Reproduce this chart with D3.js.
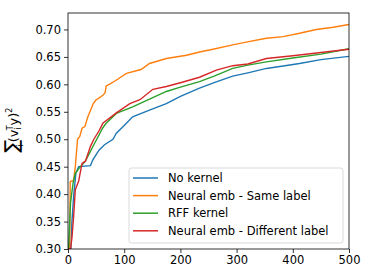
<!DOCTYPE html>
<html>
<head>
<meta charset="utf-8">
<script src="https://cdn.jsdelivr.net/npm/d3@7"></script>
<style>
  body { margin: 0; background: #fff; }
  text { font-family: "DejaVu Sans", sans-serif; }
</style>
</head>
<body>
<div id="viz"></div>
<script>
// series: [x, value]
var names = ['No kernel', 'Neural emb - Same label', 'RFF kernel', 'Neural emb - Different label'];
var colors = ['#1f77b4', '#ff7f0e', '#2ca02c', '#d62728'];

var noKernel = [[0,0.30],[5,0.30],[7,0.35],[10,0.396],[14,0.438],[19,0.45],[40,0.452],[44,0.462],[52,0.475],[56,0.481],[65,0.490],[80,0.500],[86,0.511],[100,0.525],[115,0.541],[145,0.553],[175,0.565],[200,0.578],[234,0.593],[260,0.603],[293,0.615],[320,0.621],[353,0.629],[380,0.633],[412,0.638],[450,0.645],[500,0.651]];
var sameLabel = [[0,0.30],[3,0.30],[4,0.423],[10,0.425],[13,0.45],[17,0.50],[21,0.505],[25,0.52],[30,0.523],[35,0.54],[39,0.55],[45,0.565],[50,0.572],[55,0.575],[62,0.58],[66,0.585],[68,0.597],[75,0.601],[85,0.607],[104,0.620],[130,0.627],[145,0.638],[175,0.647],[211,0.653],[234,0.659],[258,0.664],[293,0.672],[317,0.677],[353,0.684],[383,0.687],[412,0.693],[442,0.700],[472,0.704],[500,0.709]];
var rff = [[0,0.30],[1,0.30],[4.5,0.384],[9,0.42],[13,0.438],[22,0.45],[31,0.46],[46,0.49],[62,0.521],[68,0.529],[86,0.547],[115,0.559],[145,0.573],[175,0.587],[200,0.595],[234,0.605],[260,0.615],[293,0.629],[320,0.635],[353,0.641],[400,0.648],[450,0.655],[500,0.665]];
var diffLabel = [[0,0.30],[4.5,0.30],[7,0.32],[10,0.359],[13,0.408],[19,0.424],[25,0.456],[31,0.46],[40,0.487],[46,0.50],[55,0.515],[62,0.529],[86,0.548],[110,0.565],[128,0.572],[151,0.591],[175,0.596],[200,0.603],[234,0.613],[264,0.626],[293,0.634],[320,0.637],[353,0.647],[400,0.652],[450,0.658],[500,0.664]];
var series = [noKernel, sameLabel, rff, diffLabel];

var xTicks = [0, 100, 200, 300, 400, 500];
var yTicks = [0.30, 0.35, 0.40, 0.45, 0.50, 0.55, 0.60, 0.65, 0.70];

var W = 374, H = 280,
    margin = { top: 13, right: 25, bottom: 31, left: 68 },
    width = W - margin.left - margin.right,
    height = H - margin.top - margin.bottom;

var svg = d3.select('#viz').append('svg')
  .attr('width', W)
  .attr('height', H);

var xScale = d3.scaleLinear().domain([0, 500]).range([0, width]);
var yScale = d3.scaleLinear().domain([0.30, 0.73]).range([height, 0]);

var chart = svg.append('g')
  .attr('transform', 'translate(' + margin.left + ',' + margin.top + ')');

chart.append('defs').append('clipPath').attr('id', 'clip')
  .append('rect').attr('width', width).attr('height', height);

var line = d3.line()
  .x(function(d) { return xScale(d[0]); })
  .y(function(d) { return yScale(d[1]); });

chart.append('g').attr('clip-path', 'url(#clip)')
  .selectAll('path').data(series)
  .enter().append('path')
    .attr('d', line)
    .attr('fill', 'none')
    .attr('stroke', function(d, i) { return colors[i]; })
    .attr('stroke-width', 1.4);

var xGuide = chart.append('g')
  .attr('transform', 'translate(0,' + height + ')')
  .call(d3.axisBottom(xScale).tickValues(xTicks).tickSize(4).tickPadding(3));
var yGuide = chart.append('g')
  .call(d3.axisLeft(yScale).tickValues(yTicks).tickSize(4).tickPadding(3)
    .tickFormat(d3.format('.2f')));

[xGuide, yGuide].forEach(function(g) {
  g.select('.domain').remove();
  g.selectAll('text').attr('font-size', 11.5).attr('fill', '#000')
    .style('font-family', '"DejaVu Sans", sans-serif');
  g.selectAll('line').attr('stroke', '#000').attr('stroke-width', 0.8);
});

chart.append('rect')
  .attr('width', width).attr('height', height)
  .attr('fill', 'none').attr('stroke', '#000').attr('stroke-width', 0.8);

// legend
var legend = chart.append('g').attr('transform', 'translate(61,155)');
legend.append('rect')
  .attr('width', 214).attr('height', 75)
  .attr('rx', 2.5)
  .attr('fill', 'rgba(255,255,255,0.8)')
  .attr('stroke', '#d0d0d0').attr('stroke-width', 0.8);
var items = legend.selectAll('.item').data(names)
  .enter().append('g')
    .attr('transform', function(d, i) { return 'translate(0,' + (10 + i * 17.6) + ')'; });
items.append('line')
  .attr('x1', 4).attr('x2', 29)
  .attr('stroke', function(d, i) { return colors[i]; })
  .attr('stroke-width', 1.5);
items.append('text')
  .attr('x', 39).attr('dy', '0.35em')
  .attr('font-size', 11.5)
  .text(function(d) { return d; });

// y label
var ylab = svg.append('text')
  .attr('transform', 'translate(18,130) rotate(-90)')
  .attr('text-anchor', 'middle')
  .attr('font-size', 13);
ylab.append('tspan').attr('font-size', 19).text('∑');
ylab.append('tspan').attr('font-size', 8).attr('dy', 5).attr('dx', -7).text('i');
ylab.append('tspan').attr('dy', -5).attr('dx', 2).text('(v');
ylab.append('tspan').attr('font-size', 8).attr('dy', 3).text('i');
ylab.append('tspan').attr('font-size', 8).attr('dy', -8).attr('dx', -3).text('T');
ylab.append('tspan').attr('dy', 5).text('y)');
ylab.append('tspan').attr('font-size', 8).attr('dy', -6).text('2');
</script>
</body>
</html>
